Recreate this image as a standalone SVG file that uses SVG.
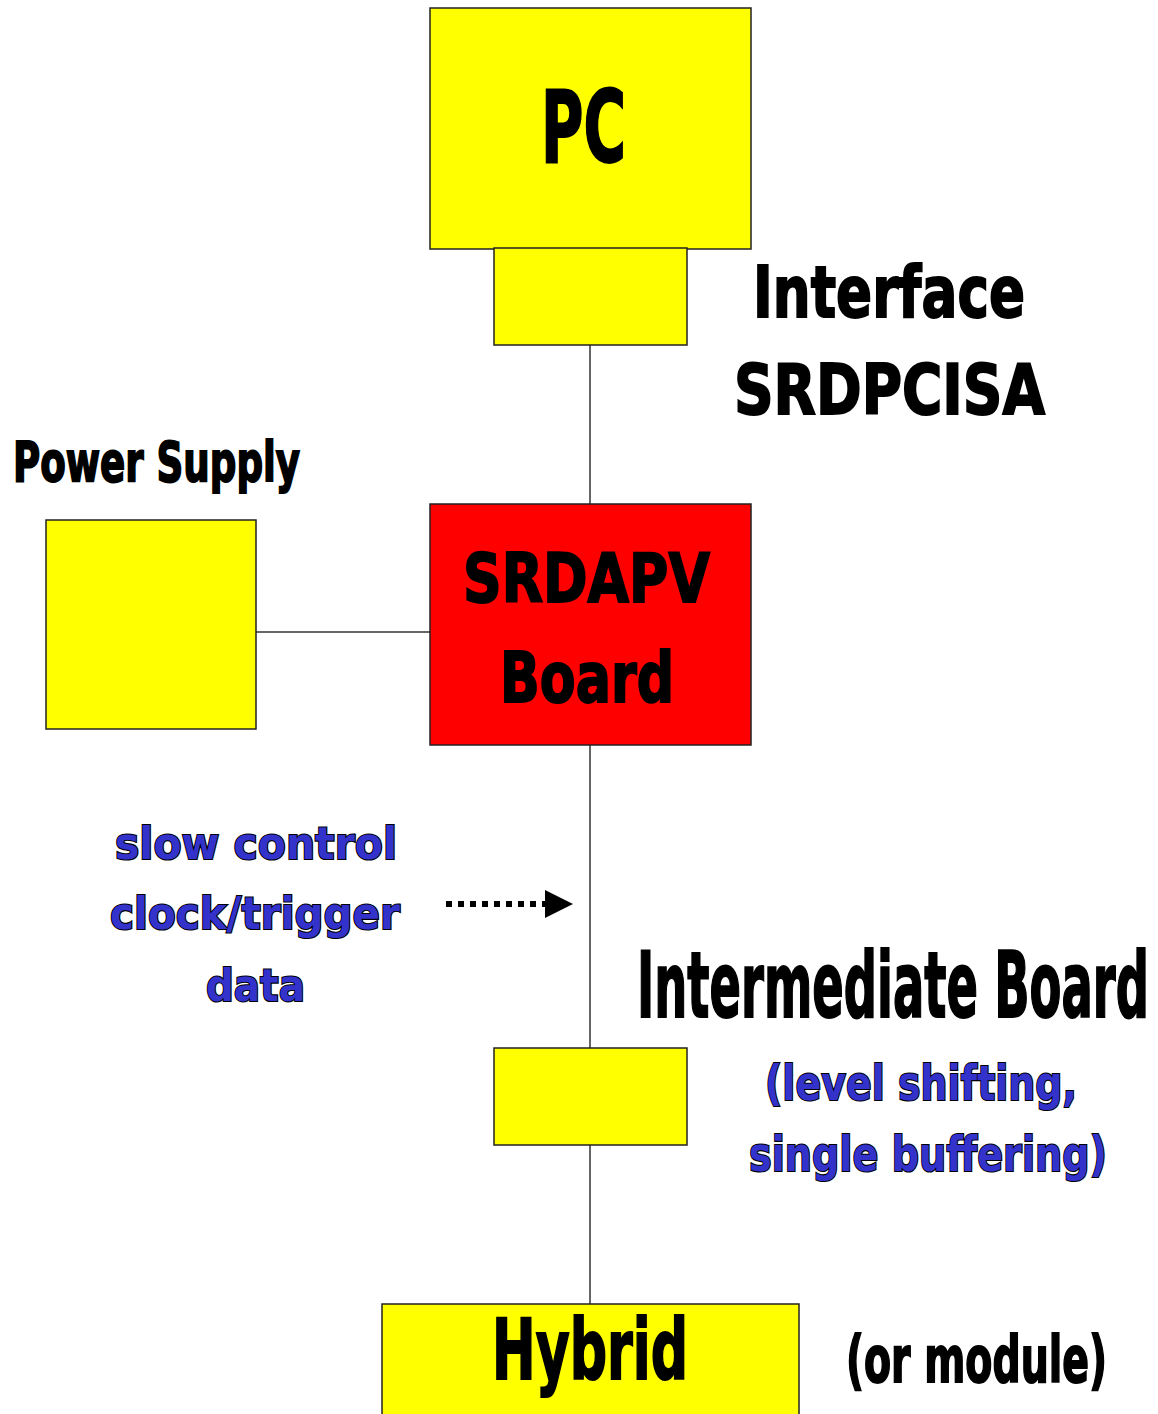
<svg xmlns="http://www.w3.org/2000/svg" width="1158" height="1414" viewBox="0 0 1158 1414">
  <style>
    .box { stroke: #222; stroke-width: 1.5; }
    .yel { fill: #FFFF00; }
    .red { fill: #FF0000; }
    .wire { stroke: #333; stroke-width: 1.5; fill: none; }
    .t { font-family: "DejaVu Sans", "Liberation Sans", Arial, sans-serif; font-weight: bold; fill: #000; stroke: #000; stroke-width: 2; }
    .b { font-family: "DejaVu Sans", "Liberation Sans", Arial, sans-serif; font-weight: bold; fill: #3333CC; stroke: #000; stroke-width: 2.2; paint-order: stroke; }
  </style>
  <defs>
    <marker id="arrow" viewBox="0 0 28 28" refX="0" refY="14" markerWidth="28" markerHeight="28" markerUnits="userSpaceOnUse" orient="auto">
      <path d="M0,0 L28,14 L0,28 Z" fill="#000"/>
    </marker>
  </defs>
  <rect width="1158" height="1414" fill="#fff"/>

  <g id="connectors">
    <line class="wire" x1="590" y1="345" x2="590" y2="504"/>
    <line class="wire" x1="256" y1="632" x2="430" y2="632"/>
    <line class="wire" x1="590" y1="745" x2="590" y2="1048"/>
    <line class="wire" x1="590" y1="1145" x2="590" y2="1304"/>
    <line x1="446" y1="904" x2="545" y2="904" stroke="#000" stroke-width="6" stroke-dasharray="6,6" marker-end="url(#arrow)"/>
  </g>

  <g id="pc">
    <rect class="box yel" x="430" y="8" width="321" height="241"/>
    <text class="t" x="541" y="162" font-size="100" textLength="85" lengthAdjust="spacingAndGlyphs">PC</text>
  </g>

  <g id="interface">
    <rect class="box yel" x="494" y="248" width="193" height="97"/>
    <text class="t" x="753" y="317" font-size="72" textLength="272" lengthAdjust="spacingAndGlyphs">Interface</text>
    <text class="t" x="734" y="414" font-size="70" textLength="311" lengthAdjust="spacingAndGlyphs">SRDPCISA</text>
  </g>

  <g id="power-supply">
    <text class="t" x="13" y="481" font-size="56" textLength="287" lengthAdjust="spacingAndGlyphs">Power Supply</text>
    <rect class="box yel" x="46" y="520" width="210" height="209"/>
  </g>

  <g id="srdapv">
    <rect class="box red" x="430" y="504" width="321" height="241"/>
    <text class="t" x="463" y="602" font-size="68" textLength="247" lengthAdjust="spacingAndGlyphs">SRDAPV</text>
    <text class="t" x="500" y="702" font-size="70" textLength="174" lengthAdjust="spacingAndGlyphs">Board</text>
  </g>

  <g id="signals">
    <text class="b" x="115" y="859" font-size="44" textLength="282" lengthAdjust="spacingAndGlyphs">slow control</text>
    <text class="b" x="110" y="929" font-size="44" textLength="290" lengthAdjust="spacingAndGlyphs">clock/trigger</text>
    <text class="b" x="206" y="1001" font-size="44" textLength="99" lengthAdjust="spacingAndGlyphs">data</text>
  </g>

  <g id="intermediate">
    <text class="t" x="637" y="1017" font-size="90" textLength="512" lengthAdjust="spacingAndGlyphs">Intermediate Board</text>
    <rect class="box yel" x="494" y="1048" width="193" height="97"/>
    <text class="b" x="765" y="1100" font-size="48" textLength="312" lengthAdjust="spacingAndGlyphs">(level shifting,</text>
    <text class="b" x="749" y="1171" font-size="48" textLength="358" lengthAdjust="spacingAndGlyphs">single buffering)</text>
  </g>

  <g id="hybrid">
    <rect class="box yel" x="382" y="1304" width="417" height="120"/>
    <text class="t" x="492" y="1379" font-size="84" textLength="196" lengthAdjust="spacingAndGlyphs">Hybrid</text>
    <text class="t" x="846" y="1382" font-size="64" textLength="261" lengthAdjust="spacingAndGlyphs">(or module)</text>
  </g>
</svg>
